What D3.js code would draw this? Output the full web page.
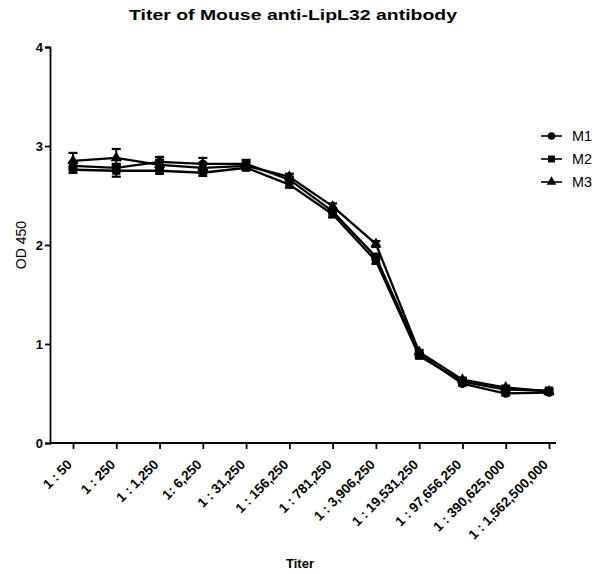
<!DOCTYPE html>
<html>
<head>
<meta charset="utf-8">
<script src="https://cdn.jsdelivr.net/npm/d3@7"></script>
<style>
  body { margin: 0; background: #fff; }
  text { font-family: "Liberation Sans", Arial, sans-serif; }
</style>
</head>
<body>
<div class="chart"></div>
<script>
// data
const titers = ["1 : 50", "1 : 250", "1 : 1,250", "1: 6,250", "1 : 31,250", "1 : 156,250",
  "1 : 781,250", "1 : 3,906,250", "1 : 19,531,250", "1 : 97,656,250", "1 : 390,625,000",
  "1 : 1,562,500,000"];
const m1 = [2.80, 2.78, 2.84, 2.82, 2.82, 2.66, 2.34, 1.88, 0.90, 0.60, 0.50, 0.51];
const m2 = [2.76, 2.75, 2.75, 2.73, 2.78, 2.61, 2.31, 1.84, 0.88, 0.62, 0.54, 0.53];
const m3 = [2.85, 2.88, 2.81, 2.78, 2.80, 2.69, 2.39, 2.01, 0.92, 0.64, 0.56, 0.52];
const m1Err = [0.04, 0.04, 0.05, 0.06, 0.04, 0.03, 0.03, 0.03, 0.02, 0.02, 0.02, 0.02];
const m2Err = [0.03, 0.06, 0.03, 0.03, 0.02, 0.03, 0.03, 0.03, 0.02, 0.02, 0.02, 0.02];
const m3Err = [0.08, 0.09, 0.05, 0.05, 0.04, 0.03, 0.03, 0.03, 0.02, 0.02, 0.02, 0.02];
const yTicks = [0, 1, 2, 3, 4];

const series = [
  { name: "M1", values: m1, err: m1Err, shape: d3.symbolCircle, size: 60 },
  { name: "M2", values: m2, err: m2Err, shape: d3.symbolSquare, size: 64 },
  { name: "M3", values: m3, err: m3Err, shape: d3.symbolTriangle, size: 55 }
];

let width = 595, height = 574;

let svg = d3.select('.chart')
  .append('svg')
    .attr('width', width)
    .attr('height', height);

let x = d3.scalePoint()
  .domain(titers)
  .range([73, 549]);

let y = d3.scaleLinear()
  .domain([0, 4])
  .range([443, 47]);

// axes
svg.append('g')
  .attr('transform', 'translate(50,0)')
  .call(d3.axisLeft(y).tickValues(yTicks).tickSize(5).tickPadding(2).tickFormat(d3.format('d')))
  .call(g => g.selectAll('text').attr('font-size', 13).attr('font-weight', 'bold').attr('fill', '#000'))
  .call(g => g.selectAll('line, path').attr('stroke', '#000').attr('stroke-width', 1.8));

let xAxis = svg.append('g')
  .attr('transform', 'translate(0,443)')
  .call(d3.axisBottom(x).tickSize(6).tickSizeOuter(0));

xAxis.select('.domain')
  .attr('d', 'M50,0H556')
  .attr('stroke', '#000')
  .attr('stroke-width', 1.8);
xAxis.selectAll('line').attr('stroke', '#000').attr('stroke-width', 1.8);
xAxis.selectAll('text')
  .attr('font-size', 13.5)
  .attr('font-weight', 'bold')
  .attr('fill', '#000')
  .attr('text-anchor', 'end')
  .attr('y', 0)
  .attr('dy', '0.35em')
  .attr('transform', 'translate(-4,19) rotate(-45)');

// error bars
series.forEach(s => {
  let g = svg.append('g');
  s.values.forEach((v, i) => {
    let cx = x(titers[i]);
    g.append('line')
      .attr('x1', cx).attr('x2', cx)
      .attr('y1', y(v - s.err[i])).attr('y2', y(v + s.err[i]))
      .attr('stroke', '#000').attr('stroke-width', 1.8);
    [v - s.err[i], v + s.err[i]].forEach(e => {
      g.append('line')
        .attr('x1', cx - 4.5).attr('x2', cx + 4.5)
        .attr('y1', y(e)).attr('y2', y(e))
        .attr('stroke', '#000').attr('stroke-width', 2.2);
    });
  });
});

// lines
let line = d3.line()
  .x((d, i) => x(titers[i]))
  .y(d => y(d));

series.forEach(s => {
  svg.append('path')
    .datum(s.values)
    .attr('d', line)
    .attr('fill', 'none')
    .attr('stroke', '#000')
    .attr('stroke-width', 2.3);

  svg.append('g')
    .selectAll('path')
    .data(s.values)
    .enter()
    .append('path')
      .attr('transform', (d, i) => `translate(${x(titers[i])},${y(d)})`)
      .attr('d', d3.symbol().type(s.shape).size(s.size))
      .attr('fill', '#000');
});

// legend
let legend = svg.append('g')
  .selectAll('g')
  .data(series)
  .enter()
  .append('g')
    .attr('transform', (d, i) => `translate(541,${136 + i * 23})`);

legend.append('line')
  .attr('x1', 0).attr('x2', 21)
  .attr('stroke', '#000').attr('stroke-width', 1.6);
legend.append('path')
  .attr('transform', 'translate(10.5,0)')
  .attr('d', d => d3.symbol().type(d.shape).size(d.size * 0.75)())
  .attr('fill', '#000');
legend.append('text')
  .attr('x', 31)
  .attr('dy', '0.35em')
  .attr('font-size', 14)
  .attr('textLength', 20)
  .attr('lengthAdjust', 'spacingAndGlyphs')
  .text(d => d.name);

// titles
svg.append('text')
  .attr('x', 293)
  .attr('y', 20)
  .attr('text-anchor', 'middle')
  .attr('font-size', 15)
  .attr('font-weight', 'bold')
  .attr('textLength', 328)
  .attr('lengthAdjust', 'spacingAndGlyphs')
  .text('Titer of Mouse anti-LipL32 antibody');

svg.append('text')
  .attr('transform', 'translate(26,245) rotate(-90)')
  .attr('text-anchor', 'middle')
  .attr('font-size', 14)
  .text('OD 450');

svg.append('text')
  .attr('x', 300)
  .attr('y', 568)
  .attr('text-anchor', 'middle')
  .attr('font-size', 13)
  .attr('font-weight', 'bold')
  .text('Titer');
</script>
</body>
</html>
